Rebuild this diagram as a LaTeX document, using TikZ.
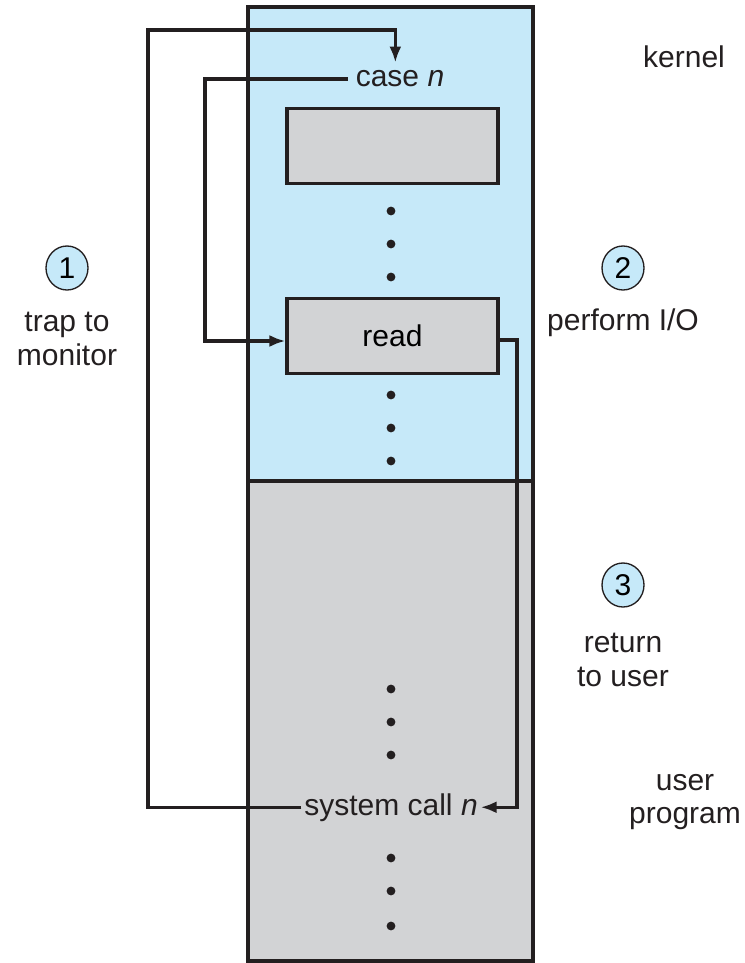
\documentclass[tikz,border=0pt]{standalone}
\usepackage{fontspec}
\setmainfont{Liberation Sans}
\usepackage{xcolor}
\usepackage{tikz}
\usetikzlibrary{shapes.geometric, arrows.meta}

\definecolor{kernelblue}{HTML}{C6E9F9}
\definecolor{usergray}{HTML}{D2D3D5}
\definecolor{inkblack}{HTML}{231F20}

\tikzset{
  kernelbg/.style={fill=kernelblue, draw=inkblack, line width=2.4pt},
  userbg/.style={fill=usergray, draw=inkblack, line width=2.4pt},
  codebox/.style={rectangle, fill=usergray, draw=inkblack, line width=2.6pt,
    minimum width=158pt, minimum height=56pt, inner sep=0pt},
  callout/.style={ellipse, fill=kernelblue, draw=inkblack, line width=1pt,
    minimum width=31.5pt, minimum height=33pt, inner sep=0pt},
  lbl/.style={inner sep=2pt, text=inkblack},
  flow/.style={-{Latex[length=12pt, width=9pt]}, draw=inkblack, line width=2.6pt},
}

\begin{document}
\fontsize{22.5}{25}\selectfont
\begin{tikzpicture}[x=0.75pt, y=-0.75pt]
            \useasboundingbox (0,0) rectangle (744,963);
            % memory regions
            \draw[kernelbg] (248,7) rectangle (533,481);
            \draw[userbg] (248,481) rectangle (533,961);
            \draw[inkblack, line width=3.6pt] (248,481) -- (533,481);
            % kernel code
            \node[codebox] (table) at (392.5,146) {};
            \node[codebox] (read) at (392.5,336) {read};
            \node[lbl, anchor=base, inner sep=6pt] (casen) at (400,87) {case \textit{n}};
            \node[lbl, anchor=base] (syscall) at (391,815) {system call \textit{n}};
            \foreach \y in {211,244,277,395,428,461,689,722,755,858,891,926}
              \fill[inkblack] (391,\y) circle (3.3pt);
            % steps
            \node[callout] (one) at (67,268) {1};
            \node[callout] (two) at (623,268) {2};
            \node[callout] (three) at (623,585) {3};
            \node[lbl, align=center] (trap) at (67,339) {trap to\\monitor};
            \node[lbl, anchor=base] (perform) at (623,330) {perform I/O};
            \node[lbl, align=center] (ret) at (623,660) {return\\to user};
            \node[lbl, anchor=base] (kernel) at (684,68) {kernel};
            \node[lbl, align=center] (userprog) at (685,802) {user\\program};
            % connectors
            \coordinate (trapcorner) at (148,30);
            \coordinate (iocorner) at (205,341);
            \coordinate (retcorner) at (517,340);
            \draw[flow] (syscall.west) -| (trapcorner) -| ([xshift=-3.5pt]casen.north);
            \draw[flow] (casen.west) -| (iocorner) -- (read.west |- iocorner);
            \draw[flow] (read.east |- retcorner) -- (retcorner) |- (syscall.east);
          \end{tikzpicture}
\end{document}
